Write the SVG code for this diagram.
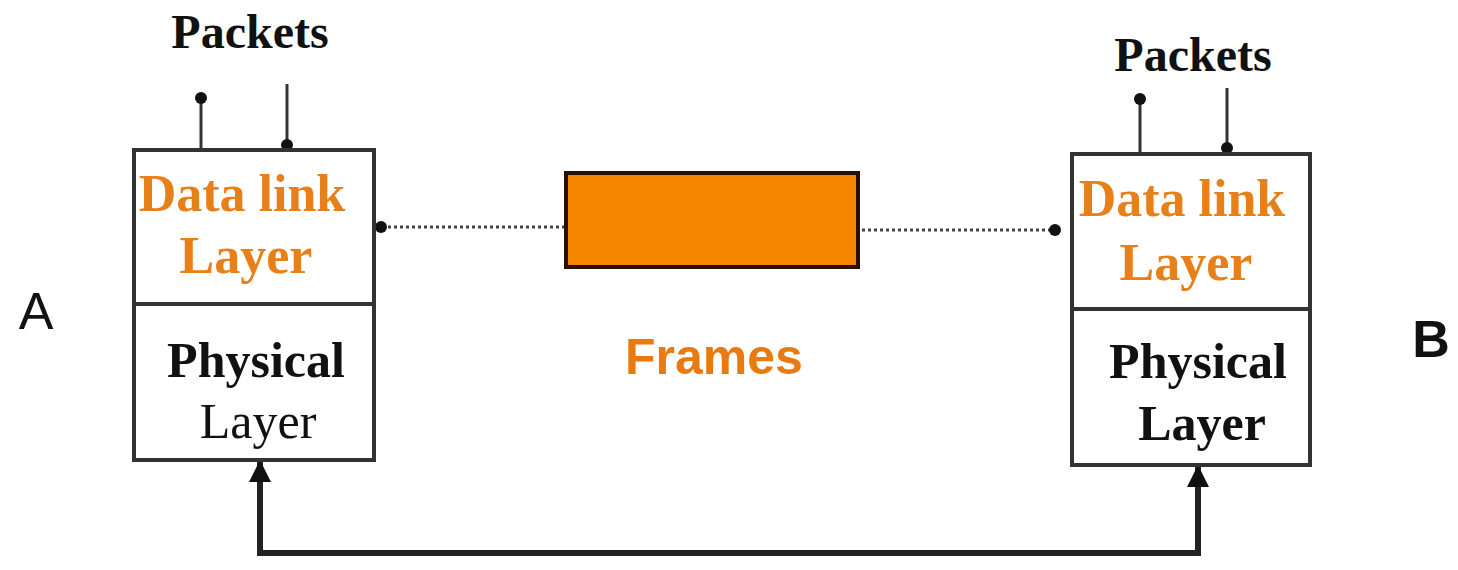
<svg xmlns="http://www.w3.org/2000/svg" width="1458" height="570" viewBox="0 0 1458 570">
<defs>
<style>
.box{fill:#fff;stroke:#333;stroke-width:4}
.serif{font-family:"Liberation Serif","DejaVu Serif",serif;font-weight:bold;text-anchor:middle}
.dl{fill:#e8801a;font-size:52px}
.ph{fill:#111;font-size:50px}
.pk{fill:#111;font-size:48px}
.sans{font-family:"Liberation Sans","DejaVu Sans",sans-serif;text-anchor:middle}
.line{stroke:#333;stroke-width:3;fill:none}
.dot{stroke:#444;stroke-width:3;stroke-dasharray:3 3;fill:none}
.thick{stroke:#222;stroke-width:6;fill:none}
</style>
<marker id="dh" markerWidth="14" markerHeight="14" refX="7" refY="7" orient="auto" markerUnits="userSpaceOnUse">
<circle cx="7" cy="7" r="6" fill="#111"/>
</marker>
<marker id="ah" markerWidth="24" markerHeight="24" refX="20" refY="12" orient="auto" markerUnits="userSpaceOnUse">
<path d="M0,1 L22,12 L0,23 Z" fill="#111"/>
</marker>
</defs>
<g id="connectors">
<path class="line" d="M201,149 V98" marker-end="url(#dh)"/>
<path class="line" d="M287,84 V145" marker-end="url(#dh)"/>
<path class="line" d="M1140,153 V99" marker-end="url(#dh)"/>
<path class="line" d="M1227,88 V148" marker-end="url(#dh)"/>
<path class="dot" d="M565,227 H381" marker-end="url(#dh)"/>
<path class="dot" d="M862,230 H1055" marker-end="url(#dh)"/>
<path class="thick" d="M260,553 V462" marker-end="url(#ah)"/>
<path class="thick" d="M257,553 H1201"/>
<path class="thick" d="M1198,556 V467" marker-end="url(#ah)"/>
</g>
<g id="nodeA">
<rect class="box" x="134" y="150" width="240" height="310"/>
<line x1="134" y1="304" x2="374" y2="304" stroke="#333" stroke-width="4"/>
<text class="serif dl" x="242" y="211">Data link</text>
<text class="serif dl" x="246" y="273">Layer</text>
<text class="serif ph" x="256" y="377">Physical</text>
<text class="serif ph" x="258" y="438" style="font-weight:normal">Layer</text>
</g>
<g id="nodeB">
<rect class="box" x="1072" y="154" width="238" height="311"/>
<line x1="1072" y1="309" x2="1310" y2="309" stroke="#333" stroke-width="4"/>
<text class="serif dl" x="1182" y="216">Data link</text>
<text class="serif dl" x="1186" y="280">Layer</text>
<text class="serif ph" x="1198" y="378">Physical</text>
<text class="serif ph" x="1202" y="440">Layer</text>
</g>
<g id="packetsA"><text class="serif pk" x="250" y="48">Packets</text></g>
<g id="packetsB"><text class="serif pk" x="1193" y="71">Packets</text></g>
<g id="frame">
<rect x="566" y="173" width="292" height="94" fill="#f58800" stroke="#2a1000" stroke-width="4"/>
<text class="sans" x="714" y="374" font-weight="bold" font-size="50" fill="#e87a10">Frames</text>
</g>
<g id="labelA"><text class="sans" x="36" y="329" font-size="52" fill="#111">A</text></g>
<g id="labelB"><text class="sans" x="1431" y="357" font-size="52" font-weight="bold" fill="#111">B</text></g>
</svg>
